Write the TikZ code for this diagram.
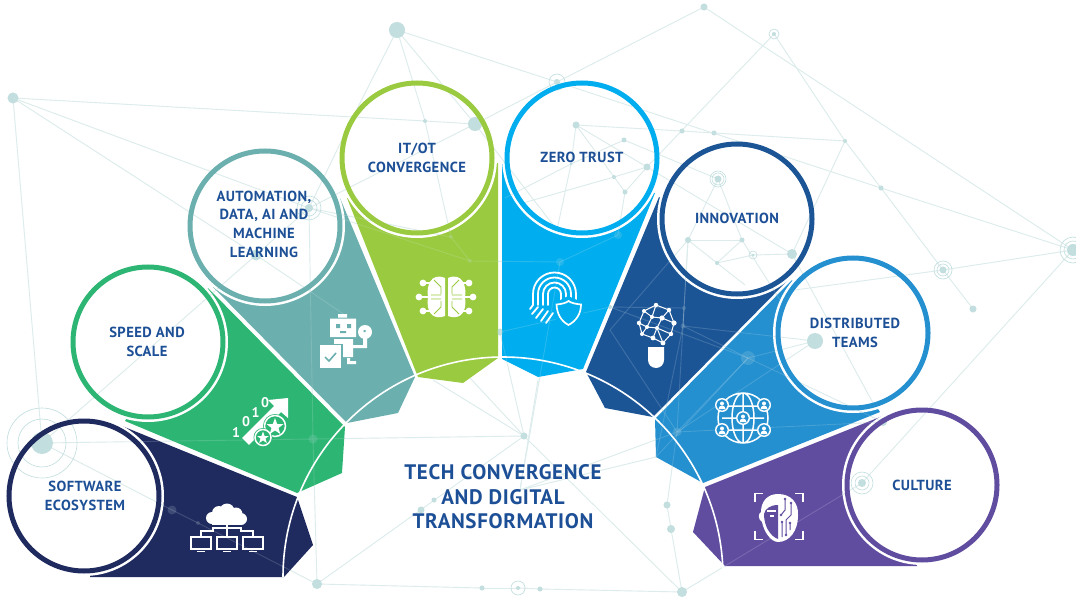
\documentclass[tikz,border=0pt]{standalone}
\usepackage{fontspec}
\setmainfont{PT Sans}
\newfontfamily\labfont[LetterSpace=3]{PT Sans Bold}
\definecolor{txt}{HTML}{1C4F96}
\definecolor{net}{HTML}{DCEBEB}
\definecolor{netdot}{HTML}{C2DEDE}
\definecolor{cnavy}{HTML}{1F2A5F}
\definecolor{cgreen}{HTML}{2DB573}
\definecolor{cteal}{HTML}{6BB0AE}
\definecolor{clime}{HTML}{9ACA3F}
\definecolor{ccyan}{HTML}{00AEEF}
\definecolor{cblue}{HTML}{1C5596}
\definecolor{cmid}{HTML}{2490D0}
\definecolor{cpurp}{HTML}{614DA0}
\tikzset{
  wedge/.style={fill=#1,draw=none},
  ringc/.style={draw=#1,line width=5pt,fill=none},
  lab/.style={text=txt,align=center,font=\labfont\fontsize{14.6}{18.6}\selectfont,inner sep=0pt},
  ttl/.style={text=txt,align=center,font=\labfont\fontsize{21}{24.5}\selectfont,inner sep=0pt},
  wl/.style={draw=white,line width=#1,fill=none},
  wl/.default=1.5pt,
}
\newcommand{\netdraw}{%
  \foreach \a/\b in {A/I,A/H,A/G,A/A1,A1/G,G/H,H/I,I/T,I/N2,N2/N1,T/W,T/N1,T/N2,N2/k1,N1/k9,W/N1,W/U,N1/H,H/k1,H/k2,H/m,G/k11,
    A1/m,m/P,A1/c,c/d,d/Q,Q/m,Q/P,Q/R,R/S,S/S2,S2/X,X/P,X/Z,Z/Y,Y/f,X/g,g/N19,P/k5,P/p1,P/p2,k1/k2,k2/k3,k3/k4,k3/L,L/f,L/f2,f2/e,k5/k8,p3/L,
    W/N12,V/N11,N11/N12,N12/N20,N12/N19,N20/N19,N20/N21,N20/n,U/N19,V/N5,N3/N9,N9/N10,N10/N11,N11/N15,N3/N8,N8/k9,N3/N6,N6/N7,N3/N5,N4/N13,N4/N8,N8/q1,N5/N6,N6/q2,N5/N7,N7/k4,N13/N14,N13/N18,N5/N15,N18/N14,N18/N17,N17/N14,N16/N15,N17/N16,N14/r1,N17/r2,N15/r3,
    N18/k6,k6/k7,k7/e,k7/D,k8/e,e/D,e/f,f/D,f/k10,e/h,f/h,N18/k7,N18/k10,k6/f,k7/f2,k6/k8}
    {\draw[net,line width=.9pt] (\a) -- (\b);}
  \foreach \p/\r in {A/5.5,A1/11,T/8,U/3.5,V/2,W/3,N1/7,N2/2,N3/3.5,N4/2.5,N5/3.5,N6/2,N7/2.5,N8/1.5,N9/2.5,N10/2.5,N11/2,N12/2.5,N13/3.5,N14/2.5,N15/5,N16/1.5,N17/2,N18/3,N19/6,N20/3.5,N21/3.5,G/5.5,H/4,P/3.5,Q/5,R/2.5,S/2,S2/2.5,X/5,Y/3.5,Z/4,a/3.5,b/2.5,m/4.5,c/4.5,d/2,D/8,e/7,f/4.5,g/4,h/4,k1/2,k2/2,k3/4,k4/4,k5/3.5,k6/2,k7/2.5,k8/2}
    {\fill[netdot] (\p) circle[radius=\r pt];}
  \foreach \p/\r in {A1/35,A1/24,V/5,W/8,H/12,H/8,N13/8,N13/6,N16/4,N19/13,N19/9,N20/9,N20/6,S/7,g/11,g/7}
    {\draw[netdot,line width=.6pt] (\p) circle[radius=\r pt];}
}
\begin{document}
\begin{tikzpicture}[x=1pt,y=-1pt]
\useasboundingbox (0,0) rectangle (1076,604);
\foreach \n/\x/\y in {A/13/98,A1/42/443,T/397/30,U/704/7,V/774/34,W/557/82,I/353/117,G/256/255,H/309/208,N1/475/124,N2/425/121,N3/576/125,N4/624/140,N5/647/167,N6/614/177,N7/625/192,N8/571/164,N9/682/131,N10/714/133,N11/845/141,N12/881/188,N13/718/179,N14/742/240,N15/792/254,N16/753/255,N17/717/263,N18/688/240,N19/1073/250,N20/943/270,N21/973/309,P/524/436,Q/317/584,R/482/588,S/518/588,S2/540/589,X/682/592,Y/667/505,Z/671/529,a/421/510,b/434/500,m/313/439,c/172/510,d/198/523,D/815/341,e/748/358,f/677/432,g/862/483,h/883/422,L/520/490,k1/451/237,k2/470/261,k3/560/262,k4/618/235,k5/500/332,k6/684/308,k7/683/326,k8/610/307,k9/557/230,k10/610/330,k11/345/315,p1/433/380,p2/470/378,p3/538/380,f2/656/457,n/795/290,q1/505/198,q2/523/203,r1/780/300,r2/745/285,r3/873/403}
  {\coordinate (\n) at (\x,\y);}
\foreach \n/\x/\y in {c1/84/496,c2/148/342,c3/265/226,c4/417/158,c5/582/158,c6/737/219,c7/853/333,c8/922/485}
  {\coordinate (\n) at (\x,\y);}
\netdraw
% wedges
\fill[wedge=cnavy] (117,424) -- (297,497) -- (313,545) -- (284,577) -- (90,577) -- cycle;
\fill[wedge=cgreen] (125,421) -- (297,493) -- (342,473) -- (345,427) -- (208,288) -- cycle;
\fill[wedge=cteal] (213,287) -- (347,423) -- (398,413) -- (415,377) -- (340,198) -- cycle;
\fill[wedge=clime] (347,198) -- (418,377) -- (463,383) -- (498,358) -- (498,163) -- cycle;
\fill[wedge=ccyan] (502,163) -- (502,359) -- (538,377) -- (583,369) -- (655,193) -- cycle;
\fill[wedge=cblue] (659,197) -- (586,372) -- (605,408) -- (653,417) -- (790,278) -- cycle;
\fill[wedge=cmid] (792,280) -- (655,419) -- (656,457) -- (703,483) -- (880,412) -- cycle;
\fill[wedge=cpurp] (885,415) -- (705,487) -- (693,532) -- (725,566) -- (917,566) -- cycle;
\begin{scope}[opacity=.18]\netdraw\end{scope}
\draw[white,line width=1.6pt] (283,577) arc[start angle=180,end angle=0,radius=220pt];
\foreach \c in {c1,c2,c3,c4,c5,c6,c7,c8}{\fill[white] (\c) circle[radius=80pt];}
\begin{scope}
\clip (c1) circle[radius=80pt] (c2) circle[radius=80pt] (c3) circle[radius=80pt] (c4) circle[radius=80pt] (c5) circle[radius=80pt] (c6) circle[radius=80pt] (c7) circle[radius=80pt] (c8) circle[radius=80pt];
\netdraw
\end{scope}
\foreach \c/\col in {c1/cnavy,c2/cgreen,c3/cteal,c4/clime,c5/ccyan,c6/cblue,c7/cmid,c8/cpurp}
  {\draw[ringc=\col] (\c) circle[radius=75pt];}
% labels
\node[lab] (t1) at (85,496) {SOFTWARE\\ECOSYSTEM};
\node[lab] (t2) at (147,342) {SPEED AND\\SCALE};
\node[lab] (t3) at (264,224) {AUTOMATION,\\DATA, AI AND\\MACHINE\\LEARNING};
\node[lab] (t4) at (417,158) {IT/OT\\CONVERGENCE};
\node[lab] (t5) at (582,157) {ZERO TRUST};
\node[lab] (t6) at (737,218) {INNOVATION};
\node[lab] (t7) at (855,333) {DISTRIBUTED\\TEAMS};
\node[lab] (t8) at (922,485) {CULTURE};
\node[ttl] (t0) at (503,497) {TECH CONVERGENCE\\AND DIGITAL\\TRANSFORMATION};
% icon: cloud and computers
\fill[white] (212,518) circle[radius=6pt] (219,513) circle[radius=7pt] (227,511) circle[radius=7.5pt] (236,514) circle[radius=6.5pt] (241,519) circle[radius=6pt];
\fill[white] (212,514) rectangle (241,525);
\draw[wl=1.2pt] (227,524) -- (227,537) (201,537) -- (201,531) -- (213,531) -- (213,528) -- (241,528) -- (241,531) -- (253,531) -- (253,537);
\foreach \x in {201,227,253}{
  \draw[wl=1.4pt] (\x-10,537) rectangle (\x+10,549);
  \fill[white] (\x-4,550.5) rectangle (\x+4,552);
}
% icon: speed
\fill[white] (249,445) -- (242,438) -- (274,406) -- (268,400) -- (288,398) -- (288,418) -- (281,412) -- cycle;
\foreach \x/\y/\d in {236/433/1,246/422/0,255.5/413/1,265/403/0}
  {\node[text=white,inner sep=0pt,font=\bfseries\fontsize{14}{14}\selectfont] at (\x,\y) {\d};}
\fill[cgreen] (275,426) circle[radius=12pt];
\draw[wl=1.5pt] (275,426) circle[radius=10.5pt];
\fill[cgreen] (263,437.5) circle[radius=9.5pt];
\draw[wl=1.5pt] (263,437.5) circle[radius=8pt];
\fill[white] (275,418) -- (277.2,424) -- (283.5,424) -- (278.5,428) -- (280.3,434) -- (275,430.5) -- (269.7,434) -- (271.5,428) -- (266.5,424) -- (272.8,424) -- cycle;
\fill[white] (263,431.5) -- (264.6,436) -- (269,436) -- (265.5,438.6) -- (266.8,443) -- (263,440.4) -- (259.2,443) -- (260.5,438.6) -- (257,436) -- (261.4,436) -- cycle;
% icon: robot
\fill[white] (338,314) rectangle (347,317.5) (330,318.5) rectangle (356,337) (334,339) rectangle (353,357) (347,358) rectangle (350,361) (347,361) rectangle (356,364) (353,345) rectangle (367,348) (363,338) rectangle (367,348);
\fill[cteal] (318.5,343.5) rectangle (342.5,369.5);
\fill[white] (320,345) rectangle (341,368);
\fill[white] (365,332) circle[radius=7pt];
\fill[cteal] (336,324) rectangle (340,328) (347,324) rectangle (351,328) (340,331) rectangle (346,333) (363.5,330) rectangle (365.5,332);
\draw[cteal,line width=1.6pt] (325,357) -- (329,361) -- (336,353);
% icon: brain
\fill[white] (445,278) .. controls (431,272) and (426,286) .. (428,297) .. controls (426,310) and (431,321) .. (445,316) -- cycle;
\fill[white] (448,278) .. controls (462,272) and (467,286) .. (465,297) .. controls (467,310) and (462,321) .. (448,316) -- cycle;
\draw[wl=1.1pt] (423,283) -- (431,283) (419,297) -- (431,297) (423,311) -- (431,311) (469,283) -- (462,283) (473,297) -- (462,297) (469,311) -- (462,311);
\draw[clime,line width=.9pt] (434,280) -- (441,287) -- (441,294) (431,295) -- (441,295) (431,299) -- (441,299) (434,314) -- (441,307) -- (441,301) (459,280) -- (452,287) -- (452,294) (462,295) -- (452,295) (462,299) -- (452,299) (459,314) -- (452,307) -- (452,301);
\foreach \x/\y in {423/283,419/297,423/311,469/283,473/297,469/311}{\fill[white] (\x,\y) circle[radius=3.4pt];}
% icon: fingerprint with shield
\foreach \r in {6.5,11.5,16.5,21.5}{
  \draw[white,line width=1.8pt,line cap=round] (554.5-\r,305) -- (554.5-\r,294) arc[start angle=180,end angle=0,radius=\r pt] -- (554.5+\r,300);
}
\draw[white,line width=1.8pt,line cap=round] (533,305) -- (530,309) (538,307) -- (532,314) (543,309) -- (536,318) (548,311) -- (541,321) (553,313) -- (546,323);
\fill[ccyan] (553,304) -- (568,296) -- (584,303) -- (583,317) -- (569,328) -- (556,320) -- cycle;
\draw[wl=1.7pt] (556.5,304.5) .. controls (562,304) and (566,303) .. (568.5,301) .. controls (571,303) and (576,304) .. (581,304.5) .. controls (581,314) and (576,321) .. (568.5,325) .. controls (561,321) and (557,314) .. (556.5,304.5) -- cycle;
% icon: bulb
\draw[wl=1pt] (656,305) -- (669,310) -- (674,323) -- (671,334) -- (663,343) -- (653,338) -- (642,334) -- (639,323) -- (644,311) -- cycle
  (652,317) -- (662,318) -- (657,328) -- (647,327) -- cycle
  (656,305) -- (652,317) -- (644,311) (662,318) -- (669,310) (662,318) -- (674,323) (657,328) -- (671,334) (657,328) -- (663,343) (657,328) -- (653,338) (647,327) -- (642,334) (647,327) -- (639,323);
\foreach \x/\y/\r in {656/305/2.2,669/310/2.2,674/323/2.6,671/334/2.2,663/343/2.4,653/338/2.4,642/334/2,639/323/2.2,644/311/2,652/317/2,662/318/2.6,657/328/2,647/327/2}{\fill[white] (\x,\y) circle[radius=\r pt];}
\fill[white] (648,347) -- (664,347) -- (664,360) arc[start angle=0,delta angle=-180,radius=8pt] -- cycle;
% icon: globe
\draw[wl=1.5pt] (743,418) circle[radius=25pt] (743,418) ellipse[x radius=11pt,y radius=25pt] (743,393) -- (743,443) (722,418) -- (764,418) (721,406) -- (765,406) (721,430) -- (765,430);
\foreach \x/\y in {722/405,764/405,743/418,722/430,764/430}{
  \fill[white] (\x,\y) circle[radius=7pt];
  \fill[cmid] (\x,\y) circle[radius=5.6pt];
  \fill[white] (\x,\y-1.5) circle[radius=2pt];
  \fill[white] (\x-3.5,\y+4) arc[start angle=180,delta angle=-180,radius=3.5pt] -- cycle;
}
% icon: face
\draw[wl=1.7pt] (755,502) -- (755,493.5) -- (763,493.5) (795,493.5) -- (803,493.5) -- (803,502) (755,531) -- (755,539.5) -- (763,539.5) (795,539.5) -- (803,539.5) -- (803,531);
\fill[white] (778,494) .. controls (791,494) and (799,503) .. (798,516) .. controls (798,530) and (790,542) .. (778,542) .. controls (771,542) and (764,532) .. (762,522) .. controls (758,520) and (758,513) .. (761,512) .. controls (761,502) and (767,494) .. (778,494) -- cycle;
\fill[cpurp] (778,505) .. controls (770,505) and (765,509) .. (764,514) .. controls (764,526) and (770,536) .. (778,539) -- cycle;
\draw[wl=1.2pt] (767,511) -- (776,511) (770,516) -- (774,516);
\draw[cpurp,line width=1pt] (785,499) -- (785,510) -- (781,515) (791,503) -- (791,515) -- (786,520) -- (786,535) (782,522) -- (782,537) (790,523) -- (790,530);
\foreach \x/\y in {785/499,791/503,781/515,782/522,790/523,786/535}{\fill[cpurp] (\x,\y) circle[radius=1.4pt];}
\end{tikzpicture}
\end{document}
